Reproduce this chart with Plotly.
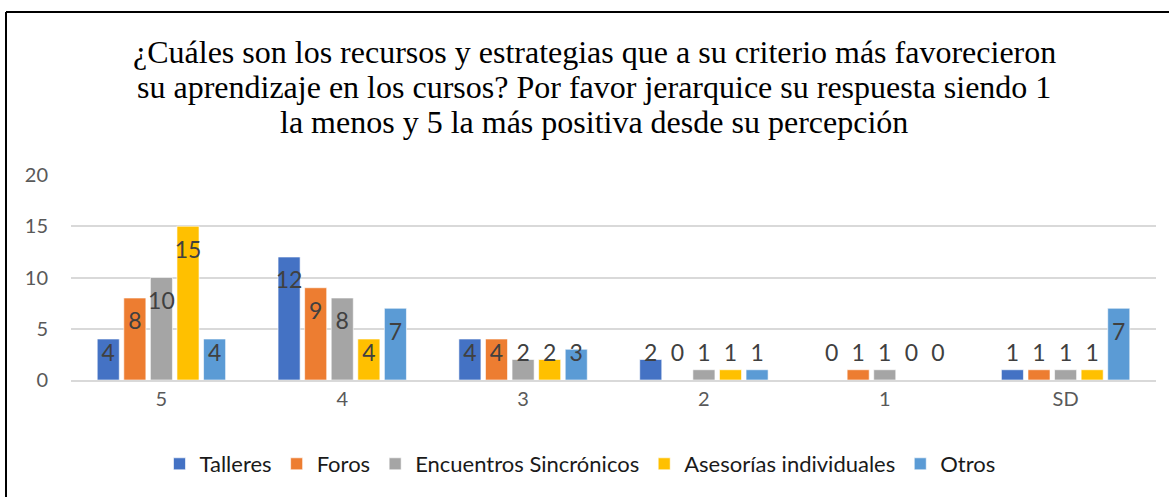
import plotly.graph_objects as go

categories = ["5", "4", "3", "2", "1", "SD"]
talleres = [4, 12, 4, 2, 0, 1]
foros = [8, 9, 4, 0, 1, 1]
encuentros = [10, 8, 2, 1, 1, 1]
asesorias = [15, 4, 2, 1, 0, 1]
otros = [4, 7, 3, 1, 0, 7]

series_names = ["Talleres", "Foros", "Encuentros Sincrónicos", "Asesorías individuales", "Otros"]
series_values = [talleres, foros, encuentros, asesorias, otros]
colors = ["#4472C4", "#ED7D31", "#A5A5A5", "#FFC000", "#5B9BD5"]

title_lines = [
    "¿Cuáles son los recursos y estrategias que a su criterio más favorecieron",
    "su aprendizaje en los cursos? Por favor jerarquice su respuesta siendo 1",
    "la menos y 5 la más positiva desde su percepción",
]

W, H = 1169, 497
ML, MT = 71, 175
MR = W - 1156
MB = H - 380
PW, PH = W - ML - MR, H - MT - MB

def py(pix):
    # screen pixel row -> paper y
    return (H - MB - pix) / PH

def px(pix):
    return (pix - ML) / PW

fig = go.Figure()
for name, vals, col in zip(series_names, series_values, colors):
    fig.add_trace(go.Bar(
        x=categories, y=vals, name=name, offsetgroup=name,
        marker=dict(color=col, line=dict(color="rgba(255,255,255,0.6)", width=1)),
    ))
# data labels at inside end (Excel style), kept from dipping below the axis
for name, vals in zip(series_names, series_values):
    ly = [max(v - 2.5, 2.45) for v in vals]
    fig.add_trace(go.Scatter(
        x=categories, y=ly, text=[str(v) for v in vals], mode="text",
        offsetgroup=name, showlegend=False, hoverinfo="skip",
        textfont=dict(family="Lato", size=23, color="#404040"),
        textposition="middle center",
    ))

title_centers = [52, 87, 122]
for line, yc in zip(title_lines, title_centers):
    fig.add_annotation(text=line, xref="paper", yref="paper", x=px(594), y=py(yc),
                       xanchor="center", yanchor="middle", showarrow=False,
                       font=dict(family="Liberation Serif", size=32, color="#000000"))

fig.update_layout(
    width=W, height=H,
    margin=dict(l=ML, r=MR, t=MT, b=MB, autoexpand=False),
    paper_bgcolor="white", plot_bgcolor="white",
    barmode="group", scattermode="group",
    bargap=0.265, bargroupgap=0.17,
    legend=dict(orientation="h", x=px(580), xanchor="center",
                y=py(443), yanchor="top",
                font=dict(family="Lato", size=22, color="#1a1a1a"),
                traceorder="normal"),
    showlegend=True,
)
fig.update_yaxes(range=[0, 20], dtick=5, showgrid=True, gridcolor="#D9D9D9", gridwidth=1.5,
                 zeroline=False, showline=False, ticks="",
                 tickfont=dict(family="Lato", size=20, color="#595959"),
                 ticklabelstandoff=22)
fig.update_xaxes(showgrid=False, showline=True, linecolor="#D9D9D9", linewidth=1.5,
                 ticks="", tickfont=dict(family="Lato", size=20, color="#595959"),
                 ticklabelstandoff=0)

# outer frame (top and left edges visible)
fig.add_shape(type="line", xref="paper", yref="paper",
              x0=px(6), x1=1.2, y0=py(12), y1=py(12),
              line=dict(color="black", width=2))
fig.add_shape(type="line", xref="paper", yref="paper",
              x0=px(6), x1=px(6), y0=py(12), y1=-1,
              line=dict(color="black", width=2))

fig.write_html("out.html",
               config={"displayModeBar": False},
               post_script="document.body.style.margin='0px';document.body.style.overflow='hidden';")
